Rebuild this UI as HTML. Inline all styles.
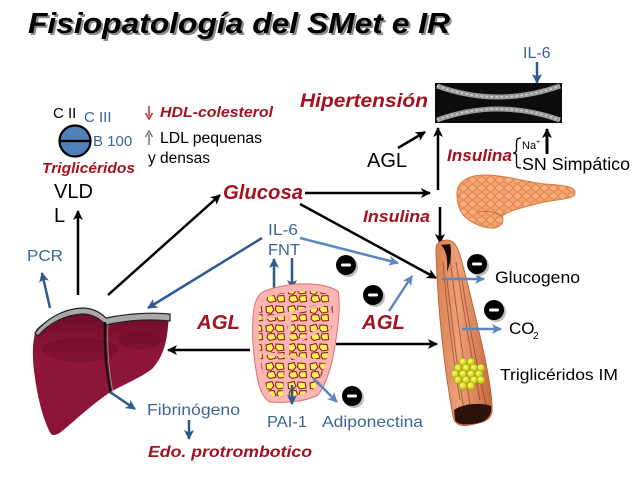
<!DOCTYPE html>
<html><head><meta charset="utf-8"><style>
html,body{margin:0;padding:0;background:#fff;}
svg{display:block;}
text{font-family:"Liberation Sans",Arial,sans-serif;}
.r{fill:#a3121e;font-weight:bold;font-style:italic;}
.b{fill:#3d6594;}
.k{fill:#000;}
</style></head><body>
<svg width="638" height="479" viewBox="0 0 638 479" xmlns="http://www.w3.org/2000/svg">
<defs>
<marker id="ak" viewBox="0 0 10 10" refX="9" refY="5" markerWidth="10" markerHeight="10" markerUnits="userSpaceOnUse" orient="auto"><path d="M0,0 L10,5 L0,10 L2.5,5 z" fill="#000"/></marker>
<marker id="ad" viewBox="0 0 10 10" refX="9" refY="5" markerWidth="10" markerHeight="10" markerUnits="userSpaceOnUse" orient="auto"><path d="M0,0 L10,5 L0,10 L2.5,5 z" fill="#2f5a8c"/></marker>
<marker id="al" viewBox="0 0 10 10" refX="9" refY="5" markerWidth="10" markerHeight="10" markerUnits="userSpaceOnUse" orient="auto"><path d="M0,0 L10,5 L0,10 L2.5,5 z" fill="#5b87bf"/></marker>
<pattern id="fat" width="22" height="19" patternUnits="userSpaceOnUse">
<rect width="22" height="19" fill="#f9b6b2"/>
<path d="M2,3 L8,1.5 L10,6 L7,9.5 L2.5,8.5 Z" fill="#fff25a" stroke="#8b0f0f" stroke-width="1"/>
<path d="M12,2 L19,2.5 L20,8 L14,9 L11.5,6 Z" fill="#fff25a" stroke="#8b0f0f" stroke-width="1"/>
<path d="M4,11 L10,10.5 L12,16 L6,17.5 L3,15 Z" fill="#fff25a" stroke="#8b0f0f" stroke-width="1"/>
<path d="M14,11 L20,10.5 L20.5,16.5 L15,17 L13,14 Z" fill="#fff25a" stroke="#8b0f0f" stroke-width="1"/>
</pattern>
<pattern id="cells" width="9" height="8" patternUnits="userSpaceOnUse">
<rect width="9" height="8" fill="#f5a26c"/>
<ellipse cx="4.5" cy="4" rx="3.8" ry="3.2" fill="#f7ad7c" stroke="#d4733f" stroke-width="0.7"/>
</pattern>
<linearGradient id="mus" x1="0" y1="0" x2="1" y2="0">
<stop offset="0" stop-color="#d9804f"/><stop offset="0.4" stop-color="#eda07a"/><stop offset="1" stop-color="#c66a3c"/>
</linearGradient>
<radialGradient id="grape" cx="0.4" cy="0.35" r="0.7">
<stop offset="0" stop-color="#ffff70"/><stop offset="1" stop-color="#b5b500"/>
</radialGradient>
<linearGradient id="liv" x1="0" y1="0" x2="0" y2="1">
<stop offset="0" stop-color="#6d0b2a"/><stop offset="0.35" stop-color="#8e1539"/><stop offset="1" stop-color="#8a1437"/>
</linearGradient>
</defs>

<!-- Title -->
<text x="30" y="35" font-size="29" font-weight="bold" font-style="italic" fill="#8a8a8a" textLength="422" lengthAdjust="spacingAndGlyphs">Fisiopatología del SMet e IR</text>
<text x="28" y="33" font-size="29" font-weight="bold" font-style="italic" fill="#000" textLength="422" lengthAdjust="spacingAndGlyphs">Fisiopatología del SMet e IR</text>

<!-- Lipoprotein -->
<text x="53" y="118" font-size="15" class="k">C II</text>
<text x="84" y="122" font-size="15" class="b">C III</text>
<circle cx="75" cy="141" r="15.5" fill="#4f7fbd" stroke="#000" stroke-width="2.2"/>
<line x1="60" y1="141" x2="90" y2="141" stroke="#000" stroke-width="2.2"/>
<text x="93" y="146" font-size="15" class="b">B 100</text>
<text x="42" y="173" font-size="15" class="r" textLength="93" lengthAdjust="spacingAndGlyphs">Triglicéridos</text>
<text x="54" y="198" font-size="20" class="k">VLD</text>
<text x="54" y="222" font-size="20" class="k">L</text>

<!-- HDL / LDL -->
<line x1="149" y1="106" x2="149" y2="116" stroke="#b03030" stroke-width="1.5"/>
<path d="M145.5,113 L149,119 L152.5,113" fill="none" stroke="#b03030" stroke-width="1.5"/>
<text x="160" y="117" font-size="14.5" class="r" textLength="113" lengthAdjust="spacingAndGlyphs">HDL-colesterol</text>
<line x1="149" y1="134" x2="149" y2="145" stroke="#777" stroke-width="1.5"/>
<path d="M145.5,137 L149,131 L152.5,137" fill="none" stroke="#777" stroke-width="1.5"/>
<text x="160" y="143" font-size="15.5" class="k" textLength="102" lengthAdjust="spacingAndGlyphs">LDL pequenas</text>
<text x="148" y="163" font-size="15.5" class="k">y densas</text>

<!-- Hipertension + vessel -->
<text x="300" y="107" font-size="19" class="r" textLength="128" lengthAdjust="spacingAndGlyphs">Hipertensión</text>
<rect x="435" y="83" width="127" height="40" fill="#0c0c0c"/>
<path d="M437,86 Q498,108 560,86" fill="none" stroke="#9a9a9a" stroke-width="5"/>
<path d="M437,86 Q498,108 560,86" fill="none" stroke="#d8d8d8" stroke-width="1.6" stroke-dasharray="2 3"/>
<path d="M437,120 Q498,98 560,120" fill="none" stroke="#9a9a9a" stroke-width="5"/>
<path d="M437,120 Q498,98 560,120" fill="none" stroke="#d8d8d8" stroke-width="1.6" stroke-dasharray="2 3"/>
<text x="523" y="58" font-size="16" class="b">IL-6</text>
<line x1="537" y1="62" x2="537" y2="83" stroke="#2f5a8c" stroke-width="2.5" marker-end="url(#ad)"/>

<text x="367" y="167" font-size="20" class="k">AGL</text>
<line x1="398" y1="148" x2="425" y2="132" stroke="#000" stroke-width="2.5" marker-end="url(#ak)"/>
<line x1="438" y1="190" x2="438" y2="128" stroke="#000" stroke-width="2.5" marker-end="url(#ak)"/>
<text x="447" y="161" font-size="17" class="r" textLength="65" lengthAdjust="spacingAndGlyphs">Insulina</text>
<path d="M521,138 C516.5,138 516.5,140 516.5,145 L516.5,150 C516.5,152 515.5,153 513,153 C515.5,153 516.5,154 516.5,156 L516.5,162 C516.5,167 516.5,168 521,168" fill="none" stroke="#000" stroke-width="1.3"/>
<text x="522" y="149" font-size="11" class="k">Na</text>
<text x="536" y="144" font-size="7" class="k">+</text>
<line x1="547" y1="154" x2="547" y2="129" stroke="#000" stroke-width="3" marker-end="url(#ak)"/>
<text x="522" y="170" font-size="17.5" class="k" textLength="108" lengthAdjust="spacingAndGlyphs">SN Simpático</text>

<!-- Pancreas -->
<path d="M457,195 C456,182 468,175 485,175 C505,175 525,182 545,184 C560,185 576,186 575,193 C574,200 555,199 540,203 C525,207 510,210 502,216 C505,222 500,229 490,228 C480,227 470,222 463,215 C458,208 457,200 457,195 Z" fill="url(#cells)" stroke="#d67a45" stroke-width="1"/>
<path d="M478,212 C486,210 496,212 502,216" fill="none" stroke="#c86a38" stroke-width="1"/>

<!-- Glucosa -->
<text x="223" y="199" font-size="20" class="r" textLength="80" lengthAdjust="spacingAndGlyphs">Glucosa</text>
<line x1="305" y1="193" x2="430" y2="193" stroke="#000" stroke-width="2.5" marker-end="url(#ak)"/>
<line x1="300" y1="204" x2="436" y2="278" stroke="#000" stroke-width="2.5" marker-end="url(#ak)"/>
<text x="363" y="222" font-size="17" class="r" textLength="67" lengthAdjust="spacingAndGlyphs">Insulina</text>
<line x1="440" y1="207" x2="440" y2="243" stroke="#000" stroke-width="2.5" marker-end="url(#ak)"/>

<!-- Liver arrows -->
<line x1="78" y1="295" x2="78" y2="211" stroke="#000" stroke-width="2.5" marker-end="url(#ak)"/>
<line x1="108" y1="295" x2="220" y2="195" stroke="#000" stroke-width="2.5" marker-end="url(#ak)"/>
<text x="27" y="261" font-size="16" class="b" textLength="36" lengthAdjust="spacingAndGlyphs">PCR</text>
<line x1="50" y1="308" x2="42" y2="273" stroke="#2f5a8c" stroke-width="2.5" marker-end="url(#ad)"/>

<!-- IL-6 FNT -->
<text x="268" y="235" font-size="16" class="b" textLength="30" lengthAdjust="spacingAndGlyphs">IL-6</text>
<text x="268" y="255" font-size="16" class="b" textLength="32" lengthAdjust="spacingAndGlyphs">FNT</text>
<line x1="262" y1="238" x2="148" y2="308" stroke="#2f5a8c" stroke-width="2.5" marker-end="url(#ad)"/>
<line x1="300" y1="238" x2="398" y2="263" stroke="#5b87bf" stroke-width="2.5" marker-end="url(#al)"/>
<line x1="274" y1="292" x2="274" y2="259" stroke="#2f5a8c" stroke-width="2.5" marker-end="url(#ad)"/>
<line x1="292" y1="258" x2="292" y2="289" stroke="#2f5a8c" stroke-width="2.5" marker-end="url(#ad)"/>

<!-- Liver -->
<path d="M36,330 C45,320 60,312 80,310 C92,310 100,315 106,320 C125,316 150,314 169,316 L168,326 C167,340 164,356 152,369 C140,378 125,384 112,391 C98,400 82,414 67,427 C60,433 55,437 51,434 C44,422 38,400 35,378 C32,360 32,342 36,330 Z" fill="url(#liv)"/>
<ellipse cx="80" cy="350" rx="38" ry="12" fill="#6a0a28" opacity="0.45"/>
<ellipse cx="140" cy="340" rx="22" ry="9" fill="#6a0a28" opacity="0.4"/>
<path d="M35,333 C45,320 62,309 82,308 C94,308 101,313 106,318 C125,314 150,312 170,314 L170,321 C150,319 126,320 106,325 C99,318 92,314 82,314 C64,315 48,324 38,336 Z" fill="#a9a9a9" stroke="#222" stroke-width="1.2"/>
<path d="M105,322 C104,345 106,372 111,394" fill="none" stroke="#111" stroke-width="2.2"/>
<path d="M108,325 C107,347 109,372 113,392" fill="none" stroke="#999" stroke-width="0.8"/>
<line x1="110" y1="392" x2="135" y2="409" stroke="#2f5a8c" stroke-width="2.5" marker-end="url(#ad)"/>
<text x="147" y="415" font-size="16" class="b" textLength="93" lengthAdjust="spacingAndGlyphs">Fibrinógeno</text>
<line x1="189" y1="420" x2="189" y2="439" stroke="#2f5a8c" stroke-width="2.5" marker-end="url(#ad)"/>
<text x="148" y="457" font-size="16" class="r" textLength="164" lengthAdjust="spacingAndGlyphs">Edo. protrombotico</text>

<!-- AGL left -->
<text x="197" y="329" font-size="20" class="r" textLength="43" lengthAdjust="spacingAndGlyphs">AGL</text>
<line x1="250" y1="350" x2="168" y2="350" stroke="#000" stroke-width="2.5" marker-end="url(#ak)"/>

<!-- Adipose -->
<path d="M265,291 C285,283 320,280 338,291 C342,310 335,345 333,357 C330,370 326,385 318,395 C305,402 285,403 270,402 C262,398 258,385 256,370 C253,350 252,330 253,318 C254,303 257,294 265,291 Z" fill="#f9b6b2" stroke="#e07070" stroke-width="1"/>
<path d="M268,297 C288,290 318,288 332,296 C335,315 330,345 327,357 C324,370 320,382 314,389 C303,396 287,397 273,396 C267,392 264,382 262,370 C259,350 258,332 259,318 C260,306 262,299 268,297 Z" fill="url(#fat)"/>
<path d="M262,318 C285,315 305,310 333,302 M291,312 C288,340 286,370 284,398 M258,352 C280,355 305,360 330,362 M300,340 L320,330" fill="none" stroke="#f9b6b2" stroke-width="3"/>
<line x1="292" y1="385" x2="292" y2="404" stroke="#2f5a8c" stroke-width="2.5" marker-end="url(#ad)"/>
<line x1="313" y1="378" x2="337" y2="402" stroke="#5b87bf" stroke-width="2.5" marker-end="url(#al)"/>
<text x="267" y="427" font-size="16" class="b" textLength="40" lengthAdjust="spacingAndGlyphs">PAI-1</text>
<text x="322" y="427" font-size="16" class="b" textLength="101" lengthAdjust="spacingAndGlyphs">Adiponectina</text>

<!-- AGL right -->
<text x="362" y="329" font-size="20" class="r" textLength="43" lengthAdjust="spacingAndGlyphs">AGL</text>
<line x1="389" y1="311" x2="412" y2="276" stroke="#5b87bf" stroke-width="2.5" marker-end="url(#al)"/>
<line x1="336" y1="344" x2="437" y2="344" stroke="#000" stroke-width="2.5" marker-end="url(#ak)"/>

<!-- Muscle -->
<path d="M436,248 C436,262 438,300 441,330 C444,360 449,395 453,417 C455,425 462,427 470,425 C480,423 490,422 492,412 C493,400 488,370 481,340 C474,310 466,275 460,255 C457,246 454,240 447,240 C441,240 436,243 436,248 Z" fill="url(#mus)" stroke="#b85a30" stroke-width="0.8"/>
<path d="M443,262 C446,300 452,350 460,400 M450,258 C455,300 462,350 470,405 M456,262 C462,300 470,350 480,400 M447,280 C452,320 456,360 464,410 M462,280 C468,320 476,360 486,405" fill="none" stroke="#8a3a1e" stroke-width="0.9" opacity="0.7"/>
<path d="M441,245 C446,250 448,258 447,272 C451,262 452,252 450,244 Z" fill="#1a0a05"/>
<path d="M454,410 C462,404 480,402 491,406 C492,414 488,421 478,423 C468,425 458,426 455,420 Z" fill="#2a120a"/>
<g fill="url(#grape)" stroke="#8f8f00" stroke-width="0.5">
<circle cx="463" cy="362" r="4"/><circle cx="471" cy="362" r="4"/>
<circle cx="458" cy="368" r="4"/><circle cx="466" cy="368" r="4"/><circle cx="474" cy="368" r="4"/><circle cx="481" cy="368" r="4"/>
<circle cx="455" cy="374" r="4"/><circle cx="463" cy="374" r="4"/><circle cx="471" cy="374" r="4"/><circle cx="479" cy="374" r="4"/>
<circle cx="458" cy="380" r="4"/><circle cx="466" cy="380" r="4"/><circle cx="474" cy="380" r="4"/><circle cx="481" cy="380" r="4"/>
<circle cx="463" cy="386" r="4"/><circle cx="471" cy="386" r="4"/>
</g>
<line x1="442" y1="279" x2="484" y2="279" stroke="#5b87bf" stroke-width="2.5" marker-end="url(#al)"/>
<line x1="462" y1="329" x2="501" y2="329" stroke="#5b87bf" stroke-width="2.5" marker-end="url(#al)"/>
<text x="495" y="283" font-size="17" class="k" textLength="85" lengthAdjust="spacingAndGlyphs">Glucogeno</text>
<text x="509" y="334" font-size="17" class="k">CO</text>
<text x="533" y="339" font-size="10" class="k">2</text>
<text x="500" y="380" font-size="16" class="k" textLength="118" lengthAdjust="spacingAndGlyphs">Triglicéridos IM</text>

<!-- Minus badges -->
<g>
<circle cx="348" cy="267" r="10" fill="#bbb"/><circle cx="346" cy="265" r="10" fill="#000"/><rect x="341" y="263.5" width="10" height="3" rx="1.5" fill="#fff"/>
<circle cx="375" cy="297" r="10" fill="#bbb"/><circle cx="373" cy="295" r="10" fill="#000"/><rect x="368" y="293.5" width="10" height="3" rx="1.5" fill="#fff"/>
<circle cx="354" cy="398" r="10" fill="#bbb"/><circle cx="352" cy="396" r="10" fill="#000"/><rect x="347" y="394.5" width="10" height="3" rx="1.5" fill="#fff"/>
<circle cx="479" cy="266" r="10" fill="#bbb"/><circle cx="477" cy="264" r="10" fill="#000"/><rect x="472" y="262.5" width="10" height="3" rx="1.5" fill="#fff"/>
<circle cx="496" cy="312" r="10" fill="#bbb"/><circle cx="494" cy="310" r="10" fill="#000"/><rect x="489" y="308.5" width="10" height="3" rx="1.5" fill="#fff"/>
</g>
</svg>
</body></html>
